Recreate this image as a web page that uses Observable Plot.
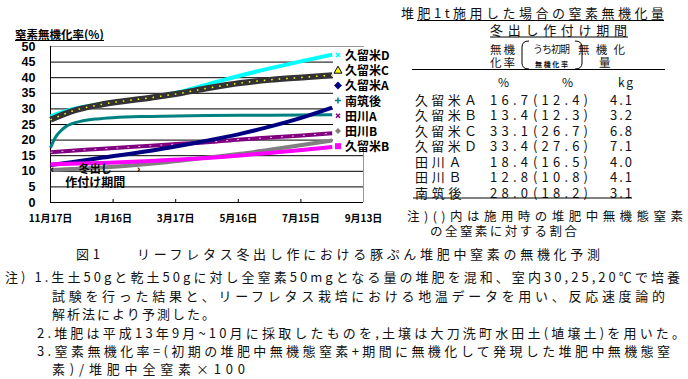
<!DOCTYPE html>
<html><head><meta charset="utf-8">
<script src="https://cdn.jsdelivr.net/npm/d3@7"></script>
<script src="https://cdn.jsdelivr.net/npm/@observablehq/plot@0.6"></script>
<style>
body{margin:0;background:#fff;}
#wrap{position:relative;width:688px;height:379px;overflow:hidden;background:#fff;font-family:"Noto Sans CJK JP",sans-serif;}
#chart{position:absolute;left:0;top:0;}
#ytitle{position:absolute;left:15px;top:28px;font:bold 11.5px "Noto Sans CJK JP";line-height:12px;border-bottom:1px solid #000;white-space:nowrap;}
#legend{position:absolute;left:333px;top:47px;width:62px;height:103px;background:#fff;}
#legend div{position:absolute;left:12px;font:bold 12px "Noto Sans CJK JP";line-height:14px;white-space:nowrap;}
#legend svg{position:absolute;left:0;top:0;}
#txt{position:absolute;left:0;top:0;}
</style></head><body>
<div id="wrap"><div id="chart"></div><div id="ytitle">窒素無機化率(%)</div><div id="legend"></div><svg id="txt" width="688" height="379"></svg></div>
<script>
// ---- data ----
const seriesNames = ["久留米D","久留米C","久留米A","南筑後","田川A","田川B","久留米B"];
const dayGrid = [0,20,50,96,124,150,182,210,241,270];
const valD   = [27.6,29.8,31.6,33.6,35.4,37.8,40.7,43.0,45.3,47.4];
const valC   = [26.5,29.2,31.5,33.6,35.0,36.6,38.3,39.3,40.1,40.8];
const valA   = [12.0,12.9,14.4,16.6,18.2,19.8,22.0,24.3,27.2,30.4];
const valTA  = [16.1,16.6,17.2,18.2,18.8,19.3,20.2,20.8,21.5,22.2];
const valTB  = [10.4,10.7,11.2,12.4,13.4,14.4,15.6,16.9,18.4,19.9];
const valB   = [12.2,12.4,12.7,13.3,13.8,14.3,15.1,15.9,16.8,17.8];
const dayTeal = [0,3,6,10,15,20,30,45,60,96,150,210,270];
const valTeal = [17.5,19.8,21.5,23.0,24.4,25.2,26.1,26.8,27.2,27.6,27.9,28.0,28.1];
const periodDays = [0, 86];
const yTicks = [0,5,10,15,20,25,30,35,40,45,50];
const xTickDays = [0,60,120,180,240,300];
const xTickLabels = ["11月17日","1月16日","3月17日","5月16日","7月15日","9月13日"];

const rowNames = ["久留米Ａ","久留米Ｂ","久留米Ｃ","久留米Ｄ","田川Ａ","田川Ｂ","南筑後"];
const rowRate = ["16.7","13.4","33.1","33.4","18.4","12.8","28.0"];
const rowInit = ["(12.4)","(12.3)","(26.7)","(27.6)","(16.5)","(10.8)","(18.2)"];
const rowKg = ["4.1","3.2","6.8","7.1","4.0","4.1","3.1"];

const rows = (days, vals) => days.map((d,i)=>({day:d, value:vals[i]}));
const sD = rows(dayGrid,valD), sC = rows(dayGrid,valC), sA = rows(dayGrid,valA);
const sTA = rows(dayGrid,valTA), sTB = rows(dayGrid,valTB), sB = rows(dayGrid,valB);
const sTeal = rows(dayTeal,valTeal);
const lineOpt = (stroke, w, extra={}) => ({x:"day", y:"value", stroke, strokeWidth:w, curve:"monotone-x", strokeLinecap:"butt", ...extra});

const chart = Plot.plot({
  width: 400, height: 230,
  marginLeft: 50, marginRight: 37, marginTop: 46, marginBottom: 28,
  x: {domain:[0,300], axis:null},
  y: {domain:[0,50], axis:null},
  style: {background:"transparent", overflow:"visible", fontFamily:"Noto Sans CJK JP"},
  marks: [
    Plot.ruleY(yTicks.slice(1,-1), {stroke:"#000", strokeWidth:1}),
    Plot.ruleY([50], {stroke:"#999"}),
    Plot.ruleX([300], {stroke:"#999"}),
    Plot.ruleX([0], {stroke:"#000"}),
    Plot.ruleY([0], {stroke:"#000"}),
    Plot.tickX(xTickDays.slice(1,-1), {x:d=>d, insetTop:153, stroke:"#000"}),
    Plot.axisY({ticks:yTicks, tickSize:0, tickPadding:15, fontSize:12.5, fontWeight:"bold", fontFamily:"Liberation Sans", label:null, fill:"#000"}),
    Plot.axisX({ticks:xTickDays, tickFormat:d=>xTickLabels[xTickDays.indexOf(d)], tickSize:0, tickPadding:12, fontSize:10, fontWeight:"bold", label:null, fill:"#000"}),
    Plot.line(sD, lineOpt("#00FFFF",4)),
    Plot.line(sC, lineOpt("#333333",6)),
    Plot.line(sC, lineOpt("#FFFF00",1.5,{strokeDasharray:"1.5 6"})),
    Plot.line(sTeal, lineOpt("#008080",3)),
    Plot.line(sTA, lineOpt("#800080",4)),
    Plot.line(sTA, lineOpt("#E8B8E8",1,{strokeDasharray:"2 9"})),
    Plot.line(sA, lineOpt("#000080",4)),
    Plot.line(sTB, lineOpt("#808080",4)),
    Plot.line(sB, lineOpt("#FF00FF",4)),
    Plot.text(["‹"], {x:periodDays[0], frameAnchor:"bottom", dy:-30, textAnchor:"start", fontSize:11, fontWeight:"bold"}),
    Plot.text(["›"], {x:periodDays[1], frameAnchor:"bottom", dy:-30, textAnchor:"end", fontSize:11, fontWeight:"bold"}),
    Plot.text(["冬出し"], {x:(periodDays[0]+periodDays[1])/2, frameAnchor:"bottom", dy:-30, fontSize:11, fontWeight:"bold"}),
    Plot.text(["作付け期間"], {x:(periodDays[0]+periodDays[1])/2, frameAnchor:"bottom", dy:-16, fontSize:12, fontWeight:"bold"})
  ]
});
document.getElementById("chart").appendChild(chart);

// ---- legend ----
const legend = document.getElementById("legend");
const ns = "http://www.w3.org/2000/svg";
const lsvg = document.createElementNS(ns,"svg");
lsvg.setAttribute("width",62); lsvg.setAttribute("height",103);
legend.appendChild(lsvg);
const symbols = [
  (y)=>`<path d="M3,${y-2}l4,4M7,${y-2}l-4,4" stroke="#00FFFF" stroke-width="1.5"/>`,
  (y)=>`<path d="M5,${y-4}L9,${y+3}L1,${y+3}Z" fill="#FFFF00" stroke="#000" stroke-width="1"/>`,
  (y)=>`<path d="M5,${y-4}L9,${y}L5,${y+4}L1,${y}Z" fill="#000080"/>`,
  (y)=>`<path d="M5,${y-3}v6M2,${y}h6" stroke="#008080" stroke-width="1.5"/>`,
  (y)=>`<path d="M3,${y-2}l4,4M7,${y-2}l-4,4" stroke="#800080" stroke-width="1.5"/>`,
  (y)=>`<path d="M5,${y-3}L8,${y}L5,${y+3}L2,${y}Z" fill="#808080"/>`,
  (y)=>`<rect x="2" y="${y-3}" width="6" height="6" fill="#FF00FF"/>`
];
let sym = "";
seriesNames.forEach((n,i)=>{
  const cy = 8 + i*15.2;
  sym += symbols[i](cy);
  const d = document.createElement("div");
  d.textContent = n;
  d.style.top = (cy-7)+"px";
  legend.appendChild(d);
});
lsvg.innerHTML = sym;

// ---- right table & notes ----
const txt = document.getElementById("txt");
function T(str, x, y, len, size=13, weight=400){
  const t = document.createElementNS(ns,"text");
  t.textContent = str;
  t.setAttribute("x",x); t.setAttribute("y",y);
  t.setAttribute("dominant-baseline","central");
  t.setAttribute("font-size",size);
  t.setAttribute("font-weight",weight);
  t.setAttribute("font-family","Noto Sans CJK JP");
  t.setAttribute("fill","#111");
  if(len){ t.setAttribute("textLength",len); t.setAttribute("lengthAdjust","spacing"); }
  txt.appendChild(t);
}
function L(x1,y1,x2,y2){
  const l = document.createElementNS(ns,"line");
  l.setAttribute("x1",x1);l.setAttribute("y1",y1);l.setAttribute("x2",x2);l.setAttribute("y2",y2);
  l.setAttribute("stroke","#000");l.setAttribute("stroke-width",1);
  txt.appendChild(l);
}
T("堆肥1t施用した場合の窒素無機化量",401,12,263);
L(417,20.5,664,20.5);
T("冬出し作付け期間",490,29.5,137);
L(490,37,628,37);
T("無機",490,48.5,25,11.5); T("化率",490,62,25,11.5);
T("うち初期",533,48.5,37,10);
T("無機化率",535,63.5,33,7,700);
T("無機化",578,48.5,47,11.5); T("量",599,62,12,11.5);
const br = document.createElementNS(ns,"path");
br.setAttribute("d","M529,41 Q522,41 522,47 L522,63 Q522,69 529,69 M575,41 Q582,41 582,47 L582,63 Q582,69 575,69");
br.setAttribute("fill","none"); br.setAttribute("stroke","#000"); txt.appendChild(br);
L(412,69.5,665,69.5);
T("%",498,81,12,12); T("%",562,81,12,12); T("kg",618,81,15,12);
rowNames.forEach((n,i)=>{
  const y = 99 + i*15.5;
  T(n,415,y,n.length*15.5);
  T(rowRate[i],490,y,38);
  T(rowInit[i],533,y,55);
  T(rowKg[i],610,y,22);
});
L(413,198,632,198);
T("注)()内は施用時の堆肥中無機態窒素",407,215,276,12.5);
T("の全窒素に対する割合",430,230,147,12.5);
T("図1　　リーフレタス冬出し作における豚ぷん堆肥中窒素の無機化予測",76,253,524);
T("注) 1.生土50gと乾土50gに対し全窒素50mgとなる量の堆肥を混和、室内30,25,20℃で培養",5,276,675);
T("試験を行った結果と、リーフレタス栽培における地温データを用い、反応速度論的",52,295,613);
T("解析法により予測した。",52,313,163);
T("2.堆肥は平成13年9月~10月に採取したものを,土壌は大刀洗町水田土(埴壌土)を用いた。",37,332,648);
T("3.窒素無機化率=(初期の堆肥中無機態窒素+期間に無機化して発現した堆肥中無機態窒",37,350,633);
T("素)/堆肥中全窒素×100",52,368,193);
</script>
</body></html>
